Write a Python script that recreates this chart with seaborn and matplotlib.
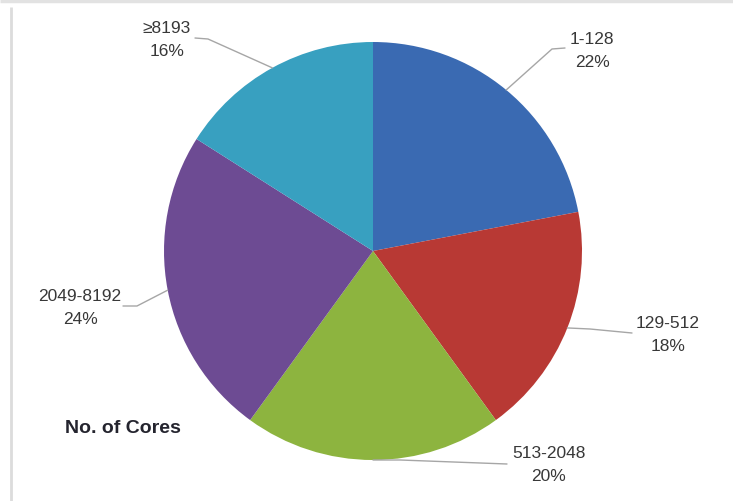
import numpy as np
import matplotlib
matplotlib.use("Agg")
import matplotlib.pyplot as plt
import seaborn as sns

# Share of jobs by number of cores
categories = ["1-128", "129-512", "513-2048", "2049-8192", "≥8193"]
shares = [22, 18, 20, 24, 16]
pct_labels = ["22%", "18%", "20%", "24%", "16%"]
colors = ["#3a6ab2", "#b83934", "#8db43f", "#6d4b93", "#38a0c0"]

sns.set_theme(style="white")
plt.rcParams["font.family"] = ["Liberation Sans", "DejaVu Sans"]

W, H = 733, 502
fig = plt.figure(figsize=(W / 100, H / 100), dpi=100)
ax = fig.add_axes([0, 0, 1, 1])
ax.set_xlim(0, W)
ax.set_ylim(H, 0)
ax.set_aspect("equal")
ax.axis("off")

# light frame lines
ax.plot([0, W], [1.5, 1.5], color="#e2e2e2", lw=2.5, solid_capstyle="butt")
ax.plot([11, 11], [8, H], color="#dcdcdc", lw=2.0, solid_capstyle="butt")

cx, cy, r = 373, 252, 209
# y axis is inverted, so counterclock=True draws clockwise on screen
wedges, _ = ax.pie(shares, colors=sns.color_palette(colors), startangle=-90,
                   counterclock=True, center=(cx, cy), radius=r,
                   wedgeprops=dict(linewidth=0), frame=True)
ax.set_xlim(0, W)
ax.set_ylim(H, 0)
ax.axis("off")

# label centers and leader line elbows
text_pos = [(592, 51), (668, 335), (549, 465), (80, 308), (167, 40)]
elbows = [[(552, 50), (565, 49)],
          [(590, 330), (632, 334)],
          [(400, 461), (507, 465)],
          [(137, 307), (123, 307)],
          [(208, 40), (195, 39)]]

for w, name, pct, tp, el in zip(wedges, categories, pct_labels, text_pos, elbows):
    mid = np.deg2rad((w.theta1 + w.theta2) / 2)
    ax_pt = (cx + r * np.cos(mid), cy + r * np.sin(mid))
    xs = [ax_pt[0]] + [p[0] for p in el]
    ys = [ax_pt[1]] + [p[1] for p in el]
    ax.plot(xs, ys, color="#a6a6a6", lw=1.0)
    ax.text(tp[0], tp[1], f"{name}\n{pct}", ha="center", va="center",
            fontsize=12.5, color="#383838", linespacing=1.7)

ax.text(65, 429, "No. of Cores", ha="left", va="center", fontsize=14,
        fontweight="bold", color="#24242e")

fig.savefig("out.png", dpi=100, facecolor="white")
